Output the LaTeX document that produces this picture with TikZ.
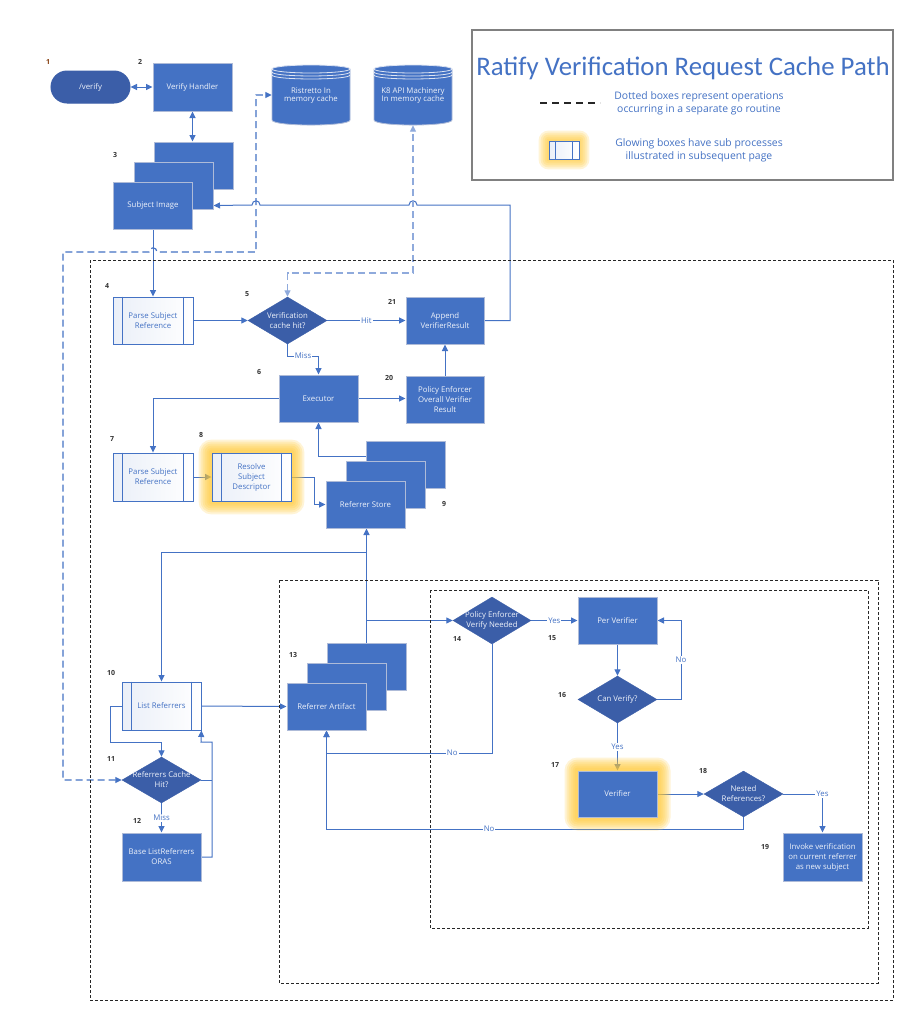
\documentclass[tikz,border=0pt]{standalone}
\usepackage{fontspec}
\setmainfont{Open Sans}
\newfontfamily\titlefont{Carlito}
\usetikzlibrary{shapes.geometric,shapes.misc,arrows.meta,calc}

\definecolor{nb}{HTML}{4472C4}
\definecolor{db}{HTML}{3B5EA8}
\definecolor{bd}{HTML}{AEBBD8}
\definecolor{tx}{HTML}{EEF2FA}
\definecolor{lb}{HTML}{8FAADC}
\definecolor{gl}{HTML}{FFC832}
\definecolor{ppl}{HTML}{EAEFF8}
\definecolor{stripe}{HTML}{DCE3F2}
\definecolor{numbrown}{HTML}{843C0C}

\pgfdeclarelayer{bglayer}
\pgfdeclarelayer{connlayer}
\pgfdeclarelayer{glowlayer}
\pgfsetlayers{bglayer,connlayer,glowlayer,main}

\newcommand\pplines[2]{%
  \draw[nb, line width=0.9pt] ($(#1.north west)+(#2,0)$) -- ($(#1.south west)+(#2,0)$)
        ($(#1.north east)+(-#2,0)$) -- ($(#1.south east)+(-#2,0)$);}
\newcommand\glowaround[1]{%
  \foreach \d in {13,11,9,7,5,3} {
    \fill[gl, opacity=0.2, rounded corners=\d pt] ($(#1.south west)+(-\d,\d)$) rectangle ($(#1.north east)+(\d,-\d)$);
  }}

\begin{document}
\begin{tikzpicture}[x=1pt,y=-1pt,
  >={Triangle[length=6.5pt,width=6pt]},
  every node/.style={font=\fontsize{7.8}{10}\selectfont, inner sep=0pt},
  box/.style={rectangle, fill=nb, draw=bd, line width=1pt, minimum width=79pt, minimum height=47pt, text=tx, align=center},
  dia/.style={diamond, fill=db, draw=db, minimum width=79pt, minimum height=47pt},
  diatxt/.style={text=tx, align=center},
  ppbox/.style={rectangle, draw=nb, line width=0.9pt, left color=ppl, right color=white, minimum width=80pt, minimum height=47pt, text=nb, align=center},
  num/.style={font=\fontsize{7}{8}\selectfont\bfseries, text=black!80},
  cline/.style={draw=nb, line width=1pt},
  arr/.style={cline, ->},
  lbl/.style={fill=white, text=nb, inner sep=1pt},
  dbox/.style={draw=black!85, line width=0.8pt, dash pattern=on 3pt off 2pt},
  dconn/.style={line width=1.2pt, dash pattern=on 7pt off 4pt}
]
\useasboundingbox (0,0) rectangle (921,1028);
\begin{pgfonlayer}{bglayer}
\fill[white] (0,0) rectangle (921,1028);
\end{pgfonlayer}

% ---------- legend ----------
\node[draw=black!50, line width=1.2pt, minimum width=421pt, minimum height=150pt] (legend) at (682.5,105) {};
\node[text=nb, font=\titlefont\fontsize{26.8}{30}\selectfont] (title) at (683,68) {Ratify Verification Request Cache Path};
\draw[black!85, line width=1.2pt, dash pattern=on 7pt off 5pt] (540,103) -- (600,103);
\node[text=nb, align=center, font=\fontsize{10.4}{13}\selectfont] (leg1) at (699,103) {Dotted boxes represent operations\\occurring in a separate go routine};
\node[ppbox, minimum width=30pt, minimum height=18pt] (icon) at (564,150) {};
\pplines{icon}{7}
\node[text=nb, align=center, font=\fontsize{10.4}{13}\selectfont] (leg2) at (699,150) {Glowing boxes have sub processes\\illustrated in subsequent page};

% ---------- top ----------
\node[box, rounded rectangle, fill=db, draw=db, minimum width=79pt, minimum height=32pt] (verify) at (90.5,87) {/verify};
\node[box, minimum height=48pt] (handler) at (192.5,87) {Verify Handler};
\node[box] (sb) at (193.5,165.5) {};
\node[box] (sm) at (173.5,185.5) {};
\node[box] (sf) at (153,205.5) {Subject Image};

% cylinders
\fill[nb] (272,69) -- (272,120) .. controls (272,126.7) and (350,126.7) .. (350,120) -- (350,69) .. controls (350,63.7) and (272,63.7) .. (272,69) -- cycle;
\draw[bd, line width=0.8pt] (272,69) -- (272,120) .. controls (272,126.7) and (350,126.7) .. (350,120) -- (350,69);
\draw[stripe, line width=0.8pt] (311,69) ellipse[x radius=39, y radius=4];
\draw[stripe, line width=0.8pt] (272,72) .. controls (272,77.3) and (350,77.3) .. (350,72);
\draw[stripe, line width=0.8pt] (272,75) .. controls (272,80.3) and (350,80.3) .. (350,75);
\node[text=tx, align=center, minimum width=78pt, minimum height=60pt] (rist) at (311,95) {\raisebox{-2pt}{\begin{tabular}{@{}c@{}}Ristretto In\\[-2pt]memory cache\end{tabular}}};

\fill[nb] (374,69) -- (374,120) .. controls (374,126.7) and (452,126.7) .. (452,120) -- (452,69) .. controls (452,63.7) and (374,63.7) .. (374,69) -- cycle;
\draw[bd, line width=0.8pt] (374,69) -- (374,120) .. controls (374,126.7) and (452,126.7) .. (452,120) -- (452,69);
\draw[stripe, line width=0.8pt] (413,69) ellipse[x radius=39, y radius=4];
\draw[stripe, line width=0.8pt] (374,72) .. controls (374,77.3) and (452,77.3) .. (452,72);
\draw[stripe, line width=0.8pt] (374,75) .. controls (374,80.3) and (452,80.3) .. (452,75);
\node[text=tx, align=center, minimum width=78pt, minimum height=60pt] (k8) at (413,95) {\raisebox{-2pt}{\begin{tabular}{@{}c@{}}K8 API Machinery\\[-2pt]In memory cache\end{tabular}}};

% ---------- outer region ----------
\node[ppbox] (psr4) at (153,320.5) {Parse Subject\\Reference};
\pplines{psr4}{10}
\node[dia] (d5) at (287.5,320.5) {};
\node[diatxt] (d5t) at (d5) {Verification\\cache hit?};
\node[box, minimum width=78pt] (app21) at (445,320.5) {Append\\VerifierResult};
\node[box] (exec6) at (318.5,398.5) {Executor};
\node[box, minimum width=78pt] (pe20) at (445,399.5) {Policy Enforcer\\Overall Verifier\\Result};
\node[ppbox, minimum height=48pt] (psr7) at (153,477) {Parse Subject\\Reference};
\pplines{psr7}{10}
\node[ppbox, minimum width=79pt, minimum height=48pt] (rsd8) at (251.5,477) {Resolve\\Subject\\Descriptor};
\pplines{rsd8}{10}
\node[box] (rb) at (406,464.5) {};
\node[box] (rm) at (385.5,484.5) {};
\node[box] (rf) at (365.5,504.5) {Referrer Store};

\node[ppbox, minimum width=79pt, minimum height=48pt] (list10) at (161.5,706) {List Referrers};
\pplines{list10}{10}
\node[dia, minimum height=46pt] (d11) at (161.5,780) {};
\node[diatxt] (d11t) at (d11) {Referrers Cache\\Hit?};
\node[box, minimum height=48pt] (base12) at (161.5,857) {Base ListReferrers\\ORAS};

\node[box] (rab) at (366.5,666.5) {};
\node[box] (ram) at (346.5,686.5) {};
\node[box] (raf) at (326.5,706.5) {Referrer Artifact};

\node[dia, minimum width=78pt] (d14) at (492,620.5) {};
\node[diatxt] (d14t) at (d14) {Policy Enforcer\\Verify Needed};
\node[box] (pv15) at (617.5,620.5) {Per Verifier};
\node[dia] (d16) at (617.5,699.5) {};
\node[diatxt] (d16t) at (d16) {Can Verify?};
\node[box, minimum height=46pt] (ver17) at (617.5,794) {Verifier};
\node[dia, minimum height=46pt] (d18) at (743.5,794) {};
\node[diatxt] (d18t) at (d18) {Nested\\References?};
\node[box, minimum height=48pt] (inv19) at (822.5,857) {Invoke verification\\on current referrer\\as new subject};

% dashed regions
\draw[dbox] (90,260) rectangle (893,1000);
\draw[dbox] (279,580) rectangle (878,983);
\draw[dbox] (430,590) rectangle (868,928);

% numbers
\node[num, text=numbrown] (n1) at (48,62) {1};
\node[num] (n2) at (140,62) {2};
\node[num] (n3) at (115,155) {3};
\node[num] (n4) at (107,286) {4};
\node[num] (n5) at (247,294) {5};
\node[num] (n21) at (392,302) {21};
\node[num] (n6) at (259,372) {6};
\node[num] (n20) at (389,378) {20};
\node[num] (n7) at (112,439) {7};
\node[num] (n8) at (201,435) {8};
\node[num] (n9) at (444,504) {9};
\node[num] (n10) at (111,673) {10};
\node[num] (n11) at (111,759) {11};
\node[num] (n12) at (137,821) {12};
\node[num] (n13) at (293,655) {13};
\node[num] (n14) at (457,639) {14};
\node[num] (n15) at (552,638) {15};
\node[num] (n16) at (562,695) {16};
\node[num] (n17) at (555,765) {17};
\node[num] (n18) at (703,771) {18};
\node[num] (n19) at (765,847) {19};

\coordinate (j1) at (366.5,552);
\coordinate (j2) at (366.5,620.5);

% ---------- glows ----------
\begin{pgfonlayer}{glowlayer}
\glowaround{rsd8}
\glowaround{ver17}
\foreach \d in {10,8,6,4,2} {
  \fill[gl, opacity=0.2, rounded corners=\d pt] ($(icon.south west)+(-\d,\d)$) rectangle ($(icon.north east)+(\d,-\d)$);
}
\end{pgfonlayer}

% ---------- connectors ----------
\begin{pgfonlayer}{connlayer}
\draw[cline, <->] (verify.east) -- (handler.west);
\draw[cline, <->] (handler.south) -- (handler.south |- sb.north);
\draw[arr] (sf.south) -- (psr4.north);
\draw[arr] (psr4.east) -- (d5.west);
\draw[arr] (d5.east) -- node[lbl]{Hit} (app21.west);
\draw[arr] (d5.south) -- (287.5,356) -- node[lbl]{Miss} (318.5,356) -- (exec6.north);
\draw[arr] (exec6.east) -- (exec6.east -| pe20.west);
\draw[arr] (pe20.north) -- (app21.south);
\draw[arr] (app21.east) -- (510,320.5) -- (510,205) -- (417,205) .. controls (417,199.5) and (409,199.5) .. (409,205) -- (260,205) .. controls (260,199.5) and (252,199.5) .. (252,205) -- ($(sm.south east)+(0,-4)$);
\draw[arr] (exec6.west) -| (psr7.north);
\draw[arr] (psr7.east) -- (rsd8.west);
\draw[arr] (rsd8.east) -- (314,477) |- (rf.west);
\draw[arr] ($(rb.north west)+(0,16)$) -| (exec6.south);
\draw[arr] (rab.north) -- (rab.north |- rf.south);
\draw[arr] (j1) -| (list10.north);
\draw[arr] (j2) -- (d14.west);
\draw[arr] (list10.east) -- (raf.west);
\draw[arr] (list10.west) -- (110,706) -- (110,742) -| (d11.north);
\draw[arr] (base12.east) -- (212,857) -- (212,742) -- (201,742) -- (list10.south east);
\draw[cline] (d11.east) -- (212,780);
\draw[arr] (d11.south) -- node[lbl]{Miss} (base12.north);
\draw[arr] (d14.south) -- (492,753) -- node[lbl,pos=0.24]{No} (326.5,753) -- (raf.south);
\draw[arr] (d18.south) -- (743.5,829) -- node[lbl,pos=0.61]{No} (326.5,829) -- (raf.south);
\draw[arr] (d14.east) -- node[lbl]{Yes} (pv15.west);
\draw[arr] (pv15.south) -- (d16.north);
\draw[arr] (d16.east) -- (681,699.5) -- node[lbl]{No} (681,620.5) -- (pv15.east);
\draw[arr] (d16.south) -- node[lbl]{Yes} (ver17.north);
\draw[arr] (ver17.east) -- (d18.west);
\draw[arr] (d18.east) -- (822.5,794) node[lbl]{Yes} -- (inv19.north);
% dashed cache links
\draw[nb, dconn, <->] (d11.west) -- (63,780) -- (63,252) -- (149,252) .. controls (149,246.5) and (157,246.5) .. (157,252) -- (256,252) -- (256,95) -- (rist.west);
\draw[lb, dconn, <->] (d5.north) -- (287.5,273) -- (413,273) -- (k8.south);
\end{pgfonlayer}
\end{tikzpicture}
\end{document}
